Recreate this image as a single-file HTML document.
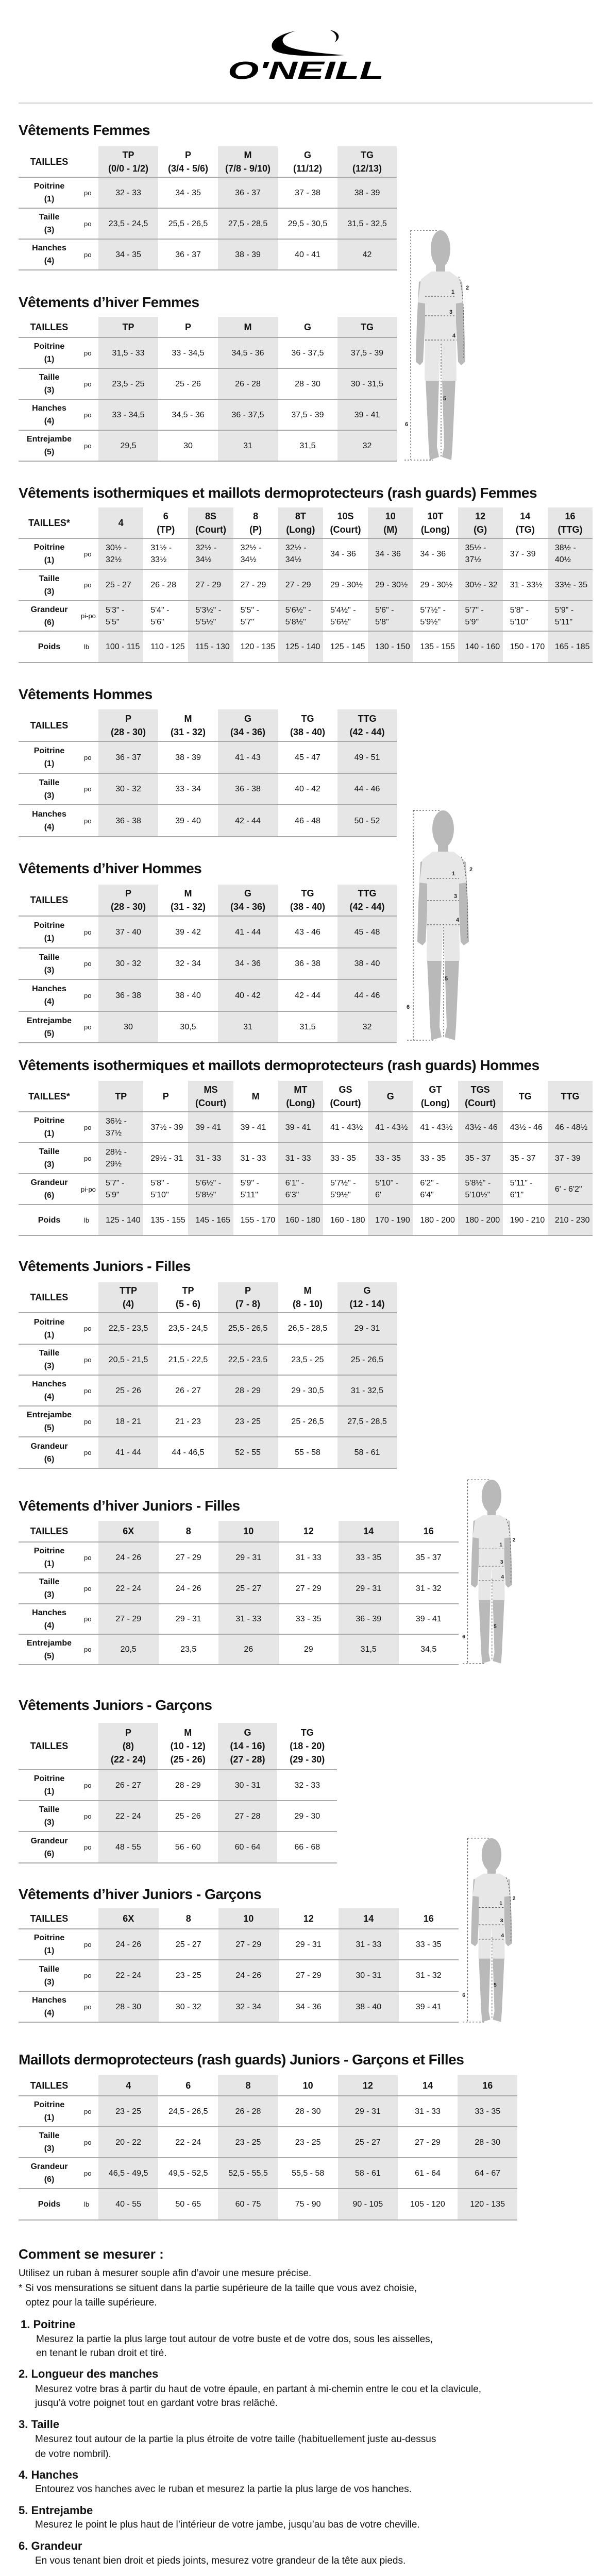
<!DOCTYPE html>
<html style="height:5034px;overflow:hidden"><head><meta charset="utf-8">
<style>
*{margin:0;padding:0;box-sizing:border-box}
html,body{width:1180px;height:5034px;overflow:hidden}
body{background:#fff;position:relative;font-family:"Liberation Sans",sans-serif;color:#111}
.ttl{position:absolute;left:36px;font-weight:bold;font-size:28px;line-height:34px;white-space:nowrap;letter-spacing:-0.5px}
.t{position:absolute;left:36px;border-collapse:collapse;table-layout:fixed;font-family:"Liberation Sans Narrow","Liberation Sans",sans-serif}
.t td{border-bottom:2px solid #a9a9a9;text-align:center;vertical-align:middle;padding:0;font-size:16px;line-height:23px;color:#111;white-space:nowrap}
.t tr.h td{font-weight:bold;font-size:18px;line-height:26px}
.t td.l{font-weight:bold;font-size:16px;line-height:25px}
.t td.u{font-size:13px;text-align:left;padding-left:8px;font-weight:normal}
.t .s{background:#e6e6e6}
.iso td.d{text-align:left;padding-left:14px}
.txt{position:absolute;left:36px;font-size:19px;line-height:29px;white-space:nowrap}
.hd{font-weight:bold;font-size:22px}
.ind{padding-left:32px}
svg.fig{position:absolute;overflow:visible}
</style></head><body>

<svg style="position:absolute;left:0;top:0" width="1180" height="210">
<path d="M574,60 C540,66 520,82 530,96 C542,108 600,111 668,107 C620,103 565,98 552,86 C543,76 552,66 574,60 Z" fill="#000"/>
<path d="M640,58 C660,62 662,74 650,82 C656,72 652,64 640,58 Z" fill="#000"/>
<text x="442" y="153" font-family="Liberation Sans" font-weight="bold" font-style="italic" font-size="48" textLength="303" lengthAdjust="spacingAndGlyphs">O'NEILL</text>
<rect x="36" y="199" width="1114" height="2" fill="#cfcfcf"/>
</svg>

<div class="ttl" style="top:236px">Vêtements Femmes</div>
<table class="t" style="top:284px">
<colgroup><col style="width:119px"><col style="width:36px"><col style="width:116px"><col style="width:116px"><col style="width:116px"><col style="width:116px"><col style="width:115px"></colgroup>
<tr class="h" style="height:60px"><td>TAILLES</td><td></td><td class="s">TP<br>(0/0 - 1/2)</td><td>P<br>(3/4 - 5/6)</td><td class="s">M<br>(7/8 - 9/10)</td><td>G<br>(11/12)</td><td class="s">TG<br>(12/13)</td></tr>
<tr style="height:60px"><td class="l">Poitrine<br>(1)</td><td class="u">po</td><td class="s">32 - 33</td><td>34 - 35</td><td class="s">36 - 37</td><td>37 - 38</td><td class="s">38 - 39</td></tr>
<tr style="height:60px"><td class="l">Taille<br>(3)</td><td class="u">po</td><td class="s">23,5 - 24,5</td><td>25,5 - 26,5</td><td class="s">27,5 - 28,5</td><td>29,5 - 30,5</td><td class="s">31,5 - 32,5</td></tr>
<tr style="height:60px"><td class="l">Hanches<br>(4)</td><td class="u">po</td><td class="s">34 - 35</td><td>36 - 37</td><td class="s">38 - 39</td><td>40 - 41</td><td class="s">42</td></tr>
</table>

<div class="ttl" style="top:570px">Vêtements d’hiver Femmes</div>
<table class="t" style="top:615px">
<colgroup><col style="width:119px"><col style="width:36px"><col style="width:116px"><col style="width:116px"><col style="width:116px"><col style="width:116px"><col style="width:115px"></colgroup>
<tr class="h" style="height:40px"><td>TAILLES</td><td></td><td class="s">TP</td><td>P</td><td class="s">M</td><td>G</td><td class="s">TG</td></tr>
<tr style="height:60px"><td class="l">Poitrine<br>(1)</td><td class="u">po</td><td class="s">31,5 - 33</td><td>33 - 34,5</td><td class="s">34,5 - 36</td><td>36 - 37,5</td><td class="s">37,5 - 39</td></tr>
<tr style="height:60px"><td class="l">Taille<br>(3)</td><td class="u">po</td><td class="s">23,5 - 25</td><td>25 - 26</td><td class="s">26 - 28</td><td>28 - 30</td><td class="s">30 - 31,5</td></tr>
<tr style="height:60px"><td class="l">Hanches<br>(4)</td><td class="u">po</td><td class="s">33 - 34,5</td><td>34,5 - 36</td><td class="s">36 - 37,5</td><td>37,5 - 39</td><td class="s">39 - 41</td></tr>
<tr style="height:60px"><td class="l">Entrejambe<br>(5)</td><td class="u">po</td><td class="s">29,5</td><td>30</td><td class="s">31</td><td>31,5</td><td class="s">32</td></tr>
</table>

<div class="ttl" style="top:940px">Vêtements isothermiques et maillots dermoprotecteurs (rash guards) Femmes</div>
<table class="t iso" style="top:985px">
<colgroup><col style="width:119px"><col style="width:36px"><col span="11" style="width:87.2px"></colgroup>
<tr class="h" style="height:60px"><td>TAILLES*</td><td></td><td class="s">4</td><td>6<br>(TP)</td><td class="s">8S<br>(Court)</td><td>8<br>(P)</td><td class="s">8T<br>(Long)</td><td>10S<br>(Court)</td><td class="s">10<br>(M)</td><td>10T<br>(Long)</td><td class="s">12<br>(G)</td><td>14<br>(TG)</td><td class="s">16<br>(TTG)</td></tr>
<tr style="height:60px"><td class="l">Poitrine<br>(1)</td><td class="u">po</td><td class="s d">30½ -<br>32½</td><td class="d">31½ -<br>33½</td><td class="s d">32½ -<br>34½</td><td class="d">32½ -<br>34½</td><td class="s d">32½ -<br>34½</td><td class="d">34 - 36</td><td class="s d">34 - 36</td><td class="d">34 - 36</td><td class="s d">35½ -<br>37½</td><td class="d">37 - 39</td><td class="s d">38½ -<br>40½</td></tr>
<tr style="height:61px"><td class="l">Taille<br>(3)</td><td class="u">po</td><td class="s d">25 - 27</td><td class="d">26 - 28</td><td class="s d">27 - 29</td><td class="d">27 - 29</td><td class="s d">27 - 29</td><td class="d">29 - 30½</td><td class="s d">29 - 30½</td><td class="d">29 - 30½</td><td class="s d">30½ - 32</td><td class="d">31 - 33½</td><td class="s d">33½ - 35</td></tr>
<tr style="height:59px"><td class="l">Grandeur<br>(6)</td><td class="u" style="padding-left:2px">pi-po</td><td class="s d">5'3" -<br>5'5"</td><td class="d">5'4" -<br>5'6"</td><td class="s d">5'3½" -<br>5'5½"</td><td class="d">5'5" -<br>5'7"</td><td class="s d">5'6½" -<br>5'8½"</td><td class="d">5'4½" -<br>5'6½"</td><td class="s d">5'6" -<br>5'8"</td><td class="d">5'7½" -<br>5'9½"</td><td class="s d">5'7" -<br>5'9"</td><td class="d">5'8" -<br>5'10"</td><td class="s d">5'9" -<br>5'11"</td></tr>
<tr style="height:61px"><td class="l">Poids</td><td class="u">lb</td><td class="s d">100 - 115</td><td class="d">110 - 125</td><td class="s d">115 - 130</td><td class="d">120 - 135</td><td class="s d">125 - 140</td><td class="d">125 - 145</td><td class="s d">130 - 150</td><td class="d">135 - 155</td><td class="s d">140 - 160</td><td class="d">150 - 170</td><td class="s d">165 - 185</td></tr>
</table>

<div class="ttl" style="top:1331px">Vêtements Hommes</div>
<table class="t" style="top:1377px">
<colgroup><col style="width:119px"><col style="width:36px"><col style="width:116px"><col style="width:116px"><col style="width:116px"><col style="width:116px"><col style="width:115px"></colgroup>
<tr class="h" style="height:62px"><td>TAILLES</td><td></td><td class="s">P<br>(28 - 30)</td><td>M<br>(31 - 32)</td><td class="s">G<br>(34 - 36)</td><td>TG<br>(38 - 40)</td><td class="s">TTG<br>(42 - 44)</td></tr>
<tr style="height:62px"><td class="l">Poitrine<br>(1)</td><td class="u">po</td><td class="s">36 - 37</td><td>38 - 39</td><td class="s">41 - 43</td><td>45 - 47</td><td class="s">49 - 51</td></tr>
<tr style="height:61px"><td class="l">Taille<br>(3)</td><td class="u">po</td><td class="s">30 - 32</td><td>33 - 34</td><td class="s">36 - 38</td><td>40 - 42</td><td class="s">44 - 46</td></tr>
<tr style="height:62px"><td class="l">Hanches<br>(4)</td><td class="u">po</td><td class="s">36 - 38</td><td>39 - 40</td><td class="s">42 - 44</td><td>46 - 48</td><td class="s">50 - 52</td></tr>
</table>

<div class="ttl" style="top:1669px">Vêtements d’hiver Hommes</div>
<table class="t" style="top:1717px">
<colgroup><col style="width:119px"><col style="width:36px"><col style="width:116px"><col style="width:116px"><col style="width:116px"><col style="width:116px"><col style="width:115px"></colgroup>
<tr class="h" style="height:61px"><td>TAILLES</td><td></td><td class="s">P<br>(28 - 30)</td><td>M<br>(31 - 32)</td><td class="s">G<br>(34 - 36)</td><td>TG<br>(38 - 40)</td><td class="s">TTG<br>(42 - 44)</td></tr>
<tr style="height:62px"><td class="l">Poitrine<br>(1)</td><td class="u">po</td><td class="s">37 - 40</td><td>39 - 42</td><td class="s">41 - 44</td><td>43 - 46</td><td class="s">45 - 48</td></tr>
<tr style="height:61px"><td class="l">Taille<br>(3)</td><td class="u">po</td><td class="s">30 - 32</td><td>32 - 34</td><td class="s">34 - 36</td><td>36 - 38</td><td class="s">38 - 40</td></tr>
<tr style="height:62px"><td class="l">Hanches<br>(4)</td><td class="u">po</td><td class="s">36 - 38</td><td>38 - 40</td><td class="s">40 - 42</td><td>42 - 44</td><td class="s">44 - 46</td></tr>
<tr style="height:61px"><td class="l">Entrejambe<br>(5)</td><td class="u">po</td><td class="s">30</td><td>30,5</td><td class="s">31</td><td>31,5</td><td class="s">32</td></tr>
</table>

<div class="ttl" style="top:2051px">Vêtements isothermiques et maillots dermoprotecteurs (rash guards) Hommes</div>
<table class="t iso" style="top:2098px">
<colgroup><col style="width:119px"><col style="width:36px"><col span="11" style="width:87.2px"></colgroup>
<tr class="h" style="height:60px"><td>TAILLES*</td><td></td><td class="s">TP</td><td>P</td><td class="s">MS<br>(Court)</td><td>M</td><td class="s">MT<br>(Long)</td><td>GS<br>(Court)</td><td class="s">G</td><td>GT<br>(Long)</td><td class="s">TGS<br>(Court)</td><td>TG</td><td class="s">TTG</td></tr>
<tr style="height:60px"><td class="l">Poitrine<br>(1)</td><td class="u">po</td><td class="s d">36½ -<br>37½</td><td class="d">37½ - 39</td><td class="s d">39 - 41</td><td class="d">39 - 41</td><td class="s d">39 - 41</td><td class="d">41 - 43½</td><td class="s d">41 - 43½</td><td class="d">41 - 43½</td><td class="s d">43½ - 46</td><td class="d">43½ - 46</td><td class="s d">46 - 48½</td></tr>
<tr style="height:60px"><td class="l">Taille<br>(3)</td><td class="u">po</td><td class="s d">28½ -<br>29½</td><td class="d">29½ - 31</td><td class="s d">31 - 33</td><td class="d">31 - 33</td><td class="s d">31 - 33</td><td class="d">33 - 35</td><td class="s d">33 - 35</td><td class="d">33 - 35</td><td class="s d">35 - 37</td><td class="d">35 - 37</td><td class="s d">37 - 39</td></tr>
<tr style="height:60px"><td class="l">Grandeur<br>(6)</td><td class="u" style="padding-left:2px">pi-po</td><td class="s d">5'7" -<br>5'9"</td><td class="d">5'8" -<br>5'10"</td><td class="s d">5'6½" -<br>5'8½"</td><td class="d">5'9" -<br>5'11"</td><td class="s d">6'1" -<br>6'3"</td><td class="d">5'7½" -<br>5'9½"</td><td class="s d">5'10" -<br>6'</td><td class="d">6'2" -<br>6'4"</td><td class="s d">5'8½" -<br>5'10½"</td><td class="d">5'11" -<br>6'1"</td><td class="s d">6' - 6'2"</td></tr>
<tr style="height:60px"><td class="l">Poids</td><td class="u">lb</td><td class="s d">125 - 140</td><td class="d">135 - 155</td><td class="s d">145 - 165</td><td class="d">155 - 170</td><td class="s d">160 - 180</td><td class="d">160 - 180</td><td class="s d">170 - 190</td><td class="d">180 - 200</td><td class="s d">180 - 200</td><td class="d">190 - 210</td><td class="s d">210 - 230</td></tr>
</table>

<div class="ttl" style="top:2441px">Vêtements Juniors - Filles</div>
<table class="t" style="top:2489px">
<colgroup><col style="width:119px"><col style="width:36px"><col style="width:116px"><col style="width:116px"><col style="width:116px"><col style="width:116px"><col style="width:115px"></colgroup>
<tr class="h" style="height:59px"><td>TAILLES</td><td></td><td class="s">TTP<br>(4)</td><td>TP<br>(5 - 6)</td><td class="s">P<br>(7 - 8)</td><td>M<br>(8 - 10)</td><td class="s">G<br>(12 - 14)</td></tr>
<tr style="height:61px"><td class="l">Poitrine<br>(1)</td><td class="u">po</td><td class="s">22,5 - 23,5</td><td>23,5 - 24,5</td><td class="s">25,5 - 26,5</td><td>26,5 - 28,5</td><td class="s">29 - 31</td></tr>
<tr style="height:60px"><td class="l">Taille<br>(3)</td><td class="u">po</td><td class="s">20,5 - 21,5</td><td>21,5 - 22,5</td><td class="s">22,5 - 23,5</td><td>23,5 - 25</td><td class="s">25 - 26,5</td></tr>
<tr style="height:60px"><td class="l">Hanches<br>(4)</td><td class="u">po</td><td class="s">25 - 26</td><td>26 - 27</td><td class="s">28 - 29</td><td>29 - 30,5</td><td class="s">31 - 32,5</td></tr>
<tr style="height:60px"><td class="l">Entrejambe<br>(5)</td><td class="u">po</td><td class="s">18 - 21</td><td>21 - 23</td><td class="s">23 - 25</td><td>25 - 26,5</td><td class="s">27,5 - 28,5</td></tr>
<tr style="height:61px"><td class="l">Grandeur<br>(6)</td><td class="u">po</td><td class="s">41 - 44</td><td>44 - 46,5</td><td class="s">52 - 55</td><td>55 - 58</td><td class="s">58 - 61</td></tr>
</table>

<div class="ttl" style="top:2906px">Vêtements d’hiver Juniors - Filles</div>
<table class="t" style="top:2952px">
<colgroup><col style="width:119px"><col style="width:36px"><col span="6" style="width:116.5px"></colgroup>
<tr class="h" style="height:41px"><td>TAILLES</td><td></td><td class="s">6X</td><td>8</td><td class="s">10</td><td>12</td><td class="s">14</td><td>16</td></tr>
<tr style="height:60px"><td class="l">Poitrine<br>(1)</td><td class="u">po</td><td class="s">24 - 26</td><td>27 - 29</td><td class="s">29 - 31</td><td>31 - 33</td><td class="s">33 - 35</td><td>35 - 37</td></tr>
<tr style="height:60px"><td class="l">Taille<br>(3)</td><td class="u">po</td><td class="s">22 - 24</td><td>24 - 26</td><td class="s">25 - 27</td><td>27 - 29</td><td class="s">29 - 31</td><td>31 - 32</td></tr>
<tr style="height:59px"><td class="l">Hanches<br>(4)</td><td class="u">po</td><td class="s">27 - 29</td><td>29 - 31</td><td class="s">31 - 33</td><td>33 - 35</td><td class="s">36 - 39</td><td>39 - 41</td></tr>
<tr style="height:59px"><td class="l">Entrejambe<br>(5)</td><td class="u">po</td><td class="s">20,5</td><td>23,5</td><td class="s">26</td><td>29</td><td class="s">31,5</td><td>34,5</td></tr>
</table>

<div class="ttl" style="top:3293px">Vêtements Juniors - Garçons</div>
<table class="t" style="top:3344px">
<colgroup><col style="width:119px"><col style="width:36px"><col span="4" style="width:115.8px"></colgroup>
<tr class="h" style="height:91px"><td>TAILLES</td><td></td><td class="s">P<br>(8)<br>(22 - 24)</td><td>M<br>(10 - 12)<br>(25 - 26)</td><td class="s">G<br>(14 - 16)<br>(27 - 28)</td><td>TG<br>(18 - 20)<br>(29 - 30)</td></tr>
<tr style="height:60px"><td class="l">Poitrine<br>(1)</td><td class="u">po</td><td class="s">26 - 27</td><td>28 - 29</td><td class="s">30 - 31</td><td>32 - 33</td></tr>
<tr style="height:60px"><td class="l">Taille<br>(3)</td><td class="u">po</td><td class="s">22 - 24</td><td>25 - 26</td><td class="s">27 - 28</td><td>29 - 30</td></tr>
<tr style="height:61px"><td class="l">Grandeur<br>(6)</td><td class="u">po</td><td class="s">48 - 55</td><td>56 - 60</td><td class="s">60 - 64</td><td>66 - 68</td></tr>
</table>

<div class="ttl" style="top:3660px">Vêtements d’hiver Juniors - Garçons</div>
<table class="t" style="top:3704px">
<colgroup><col style="width:119px"><col style="width:36px"><col span="6" style="width:116.5px"></colgroup>
<tr class="h" style="height:40px"><td>TAILLES</td><td></td><td class="s">6X</td><td>8</td><td class="s">10</td><td>12</td><td class="s">14</td><td>16</td></tr>
<tr style="height:60px"><td class="l">Poitrine<br>(1)</td><td class="u">po</td><td class="s">24 - 26</td><td>25 - 27</td><td class="s">27 - 29</td><td>29 - 31</td><td class="s">31 - 33</td><td>33 - 35</td></tr>
<tr style="height:61px"><td class="l">Taille<br>(3)</td><td class="u">po</td><td class="s">22 - 24</td><td>23 - 25</td><td class="s">24 - 26</td><td>27 - 29</td><td class="s">30 - 31</td><td>31 - 32</td></tr>
<tr style="height:60px"><td class="l">Hanches<br>(4)</td><td class="u">po</td><td class="s">28 - 30</td><td>30 - 32</td><td class="s">32 - 34</td><td>34 - 36</td><td class="s">38 - 40</td><td>39 - 41</td></tr>
</table>

<div class="ttl" style="top:3981px">Maillots dermoprotecteurs (rash guards) Juniors - Garçons et Filles</div>
<table class="t" style="top:4028px">
<colgroup><col style="width:119px"><col style="width:36px"><col span="7" style="width:116.2px"></colgroup>
<tr class="h" style="height:40px"><td>TAILLES</td><td></td><td class="s">4</td><td>6</td><td class="s">8</td><td>10</td><td class="s">12</td><td>14</td><td class="s">16</td></tr>
<tr style="height:60px"><td class="l">Poitrine<br>(1)</td><td class="u">po</td><td class="s">23 - 25</td><td>24,5 - 26,5</td><td class="s">26 - 28</td><td>28 - 30</td><td class="s">29 - 31</td><td>31 - 33</td><td class="s">33 - 35</td></tr>
<tr style="height:60px"><td class="l">Taille<br>(3)</td><td class="u">po</td><td class="s">20 - 22</td><td>22 - 24</td><td class="s">23 - 25</td><td>23 - 25</td><td class="s">25 - 27</td><td>27 - 29</td><td class="s">28 - 30</td></tr>
<tr style="height:60px"><td class="l">Grandeur<br>(6)</td><td class="u">po</td><td class="s">46,5 - 49,5</td><td>49,5 - 52,5</td><td class="s">52,5 - 55,5</td><td>55,5 - 58</td><td class="s">58 - 61</td><td>61 - 64</td><td class="s">64 - 67</td></tr>
<tr style="height:61px"><td class="l">Poids</td><td class="u">lb</td><td class="s">40 - 55</td><td>50 - 65</td><td class="s">60 - 75</td><td>75 - 90</td><td class="s">90 - 105</td><td>105 - 120</td><td class="s">120 - 135</td></tr>
</table>

<svg class="fig" style="left:780px;top:447px" width="150" height="450" viewBox="0 0 150 450">
<g fill="#b9b9b9"><ellipse cx="75" cy="36" rx="19" ry="36"/><rect x="66" y="60" width="18" height="24"/>
<path d="M33,100 L45,95 L45,180 L41,255 L35,262 L27,255 L29,180 Z"/><path d="M117,100 L105,95 L105,180 L109,255 L115,262 L123,255 L121,180 Z"/>
<path d="M46,290 L72,290 L68,420 L72,440 L54,446 L52,420 Z"/><path d="M104,290 L78,290 L82,420 L78,440 L96,446 L98,420 Z"/></g>
<g fill="#e7e7e7"><path d="M57,80 L93,80 L113,95 L119,140 L105,142 L105,185 L45,185 L45,142 L31,140 L37,95 Z"/>
<path d="M45,185 L105,185 L106,292 L78,292 L75,215 L72,292 L44,292 Z"/></g>
<g stroke="#555" stroke-width="1.2" stroke-dasharray="3,3" fill="none"><path d="M17,0 H70"/><path d="M17,0 V446"/><path d="M5,446 H60"/><path d="M45,128 H105"/><path d="M45,166 H105"/><path d="M45,213 H106"/><path d="M110,90 Q122,110 120,250"/><path d="M76,220 V440"/></g>
<g font-family="Liberation Sans" font-size="11" font-weight="bold" fill="#222"><text x="96" y="123">1</text><text x="124" y="115">2</text><text x="92" y="162">3</text><text x="98" y="208">4</text><text x="80" y="330">5</text><text x="6" y="380">6</text></g>
</svg>

<svg class="fig" style="left:785px;top:1573px" width="150" height="450" viewBox="0 0 150 450">
<g fill="#b9b9b9"><ellipse cx="75" cy="36" rx="21" ry="36"/><rect x="65" y="60" width="20" height="24"/>
<path d="M31,100 L45,95 L45,180 L41,255 L35,262 L25,255 L27,180 Z"/><path d="M119,100 L105,95 L105,180 L109,255 L115,262 L125,255 L123,180 Z"/>
<path d="M44,290 L72,290 L68,420 L72,440 L52,446 L50,420 Z"/><path d="M106,290 L78,290 L82,420 L78,440 L98,446 L100,420 Z"/></g>
<g fill="#e7e7e7"><path d="M55,80 L95,80 L115,95 L121,140 L106,142 L106,185 L44,185 L44,142 L29,140 L35,95 Z"/>
<path d="M44,185 L106,185 L107,292 L78,292 L75,215 L72,292 L43,292 Z"/></g>
<g stroke="#555" stroke-width="1.2" stroke-dasharray="3,3" fill="none"><path d="M17,0 H70"/><path d="M17,0 V446"/><path d="M5,446 H60"/><path d="M44,132 H106"/><path d="M44,175 H106"/><path d="M44,222 H107"/><path d="M110,90 Q124,110 122,250"/><path d="M76,220 V440"/></g>
<g font-family="Liberation Sans" font-size="11" font-weight="bold" fill="#222"><text x="92" y="126">1</text><text x="126" y="118">2</text><text x="96" y="170">3</text><text x="100" y="216">4</text><text x="78" y="330">5</text><text x="4" y="385">6</text></g>
</svg>

<svg class="fig" style="left:894px;top:2872px" width="120" height="360" viewBox="0 0 150 450">
<g fill="#b9b9b9"><ellipse cx="75" cy="40" rx="24" ry="40"/><rect x="65" y="66" width="20" height="24"/>
<path d="M31,100 L45,95 L45,180 L41,255 L35,262 L25,255 L27,180 Z"/><path d="M119,100 L105,95 L105,180 L109,255 L115,262 L125,255 L123,180 Z"/>
<path d="M44,290 L72,290 L68,420 L72,440 L52,446 L50,420 Z"/><path d="M106,290 L78,290 L82,420 L78,440 L98,446 L100,420 Z"/></g>
<g fill="#e7e7e7"><path d="M55,86 L95,86 L115,98 L121,140 L106,142 L106,185 L44,185 L44,142 L29,140 L35,98 Z"/>
<path d="M44,185 L106,185 L107,292 L78,292 L75,215 L72,292 L43,292 Z"/></g>
<g stroke="#555" stroke-width="1.4" stroke-dasharray="4,4" fill="none"><path d="M17,0 H70"/><path d="M17,0 V446"/><path d="M5,446 H60"/><path d="M44,168 H106"/><path d="M44,210 H106"/><path d="M44,245 H107"/><path d="M110,95 Q124,115 122,250"/><path d="M76,240 V440"/></g>
<g font-family="Liberation Sans" font-size="13" font-weight="bold" fill="#222"><text x="94" y="162">1</text><text x="126" y="150">2</text><text x="96" y="204">3</text><text x="98" y="240">4</text><text x="80" y="360">5</text><text x="4" y="385">6</text></g>
</svg>

<svg class="fig" style="left:894px;top:3568px" width="120" height="360" viewBox="0 0 150 450">
<g fill="#b9b9b9"><ellipse cx="75" cy="40" rx="24" ry="40"/><rect x="65" y="66" width="20" height="24"/>
<path d="M31,100 L45,95 L45,180 L41,255 L35,262 L25,255 L27,180 Z"/><path d="M119,100 L105,95 L105,180 L109,255 L115,262 L125,255 L123,180 Z"/>
<path d="M44,290 L72,290 L68,420 L72,440 L52,446 L50,420 Z"/><path d="M106,290 L78,290 L82,420 L78,440 L98,446 L100,420 Z"/></g>
<g fill="#e7e7e7"><path d="M55,86 L95,86 L115,98 L121,140 L106,142 L106,185 L44,185 L44,142 L29,140 L35,98 Z"/>
<path d="M44,185 L106,185 L107,292 L78,292 L75,215 L72,292 L43,292 Z"/></g>
<g stroke="#555" stroke-width="1.4" stroke-dasharray="4,4" fill="none"><path d="M17,0 H70"/><path d="M17,0 V446"/><path d="M5,446 H60"/><path d="M44,168 H106"/><path d="M44,210 H106"/><path d="M44,245 H107"/><path d="M110,95 Q124,115 122,250"/><path d="M76,240 V440"/></g>
<g font-family="Liberation Sans" font-size="13" font-weight="bold" fill="#222"><text x="94" y="162">1</text><text x="126" y="150">2</text><text x="96" y="204">3</text><text x="98" y="240">4</text><text x="80" y="360">5</text><text x="4" y="385">6</text></g>
</svg>

<div class="txt hd" style="top:4359px;font-size:26px;line-height:32px">Comment se mesurer :</div>
<div class="txt" style="top:4398px">Utilisez un ruban à mesurer souple afin d’avoir une mesure précise.</div>
<div class="txt" style="top:4427px">* Si vos mensurations se situent dans la partie supérieure de la taille que vous avez choisie,</div>
<div class="txt" style="top:4455px;padding-left:14px">optez pour la taille supérieure.</div>
<div class="txt hd" style="top:4497px;padding-left:4px">1. Poitrine</div>
<div class="txt" style="top:4526px;padding-left:34px">Mesurez la partie la plus large tout autour de votre buste et de votre dos, sous les aisselles,</div>
<div class="txt" style="top:4553px;padding-left:34px">en tenant le ruban droit et tiré.</div>
<div class="txt hd" style="top:4593px">2. Longueur des manches</div>
<div class="txt ind" style="top:4623px">Mesurez votre bras à partir du haut de votre épaule, en partant à mi-chemin entre le cou et la clavicule,</div>
<div class="txt ind" style="top:4650px">jusqu’à votre poignet tout en gardant votre bras relâché.</div>
<div class="txt hd" style="top:4691px">3. Taille</div>
<div class="txt ind" style="top:4720px">Mesurez tout autour de la partie la plus étroite de votre taille (habituellement juste au-dessus</div>
<div class="txt ind" style="top:4749px">de votre nombril).</div>
<div class="txt hd" style="top:4789px">4. Hanches</div>
<div class="txt ind" style="top:4817px">Entourez vos hanches avec le ruban et mesurez la partie la plus large de vos hanches.</div>
<div class="txt hd" style="top:4858px">5. Entrejambe</div>
<div class="txt ind" style="top:4886px">Mesurez le point le plus haut de l’intérieur de votre jambe, jusqu’au bas de votre cheville.</div>
<div class="txt hd" style="top:4927px">6. Grandeur</div>
<div class="txt ind" style="top:4956px">En vous tenant bien droit et pieds joints, mesurez votre grandeur de la tête aux pieds.</div>

</body></html>
